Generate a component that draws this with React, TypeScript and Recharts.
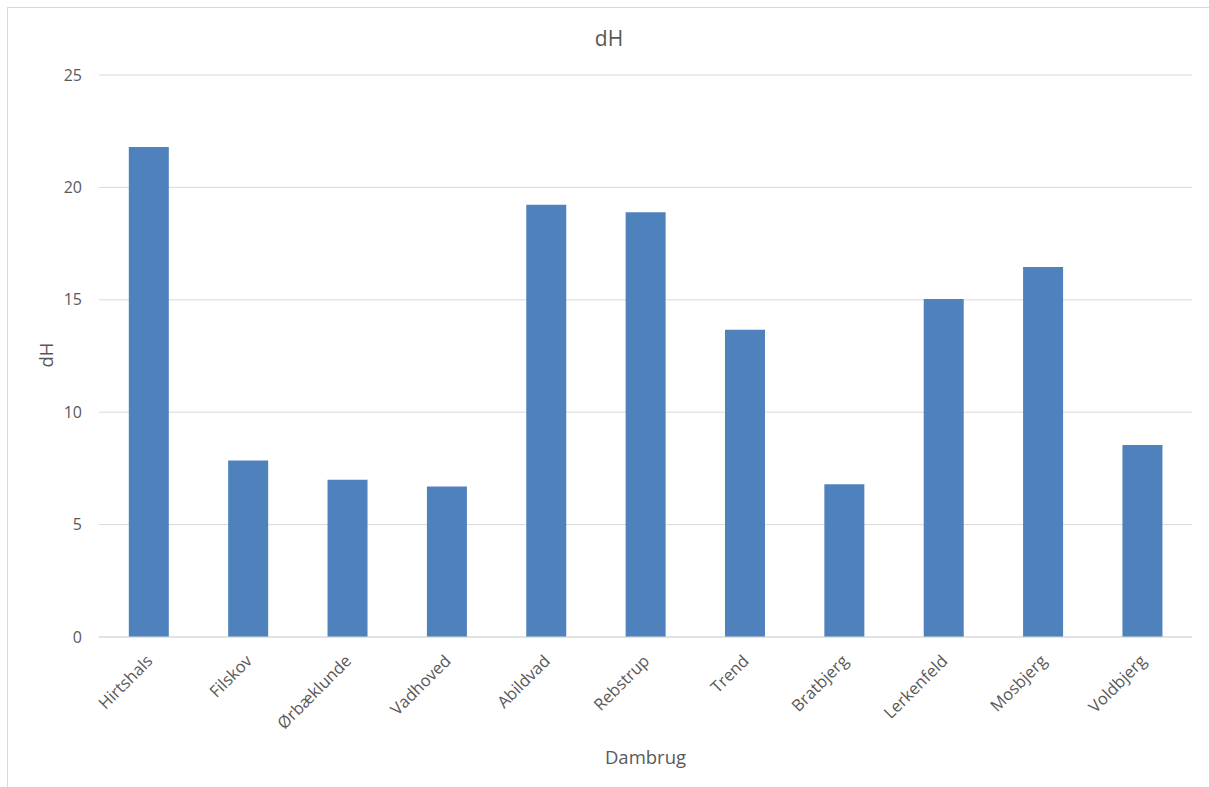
import React from 'react';
import { BarChart, Bar, XAxis, YAxis, CartesianGrid } from 'recharts';

const categories = ['Hirtshals', 'Filskov', 'Ørbæklunde', 'Vadhoved', 'Abildvad', 'Rebstrup', 'Trend', 'Bratbjerg', 'Lerkenfeld', 'Mosbjerg', 'Voldbjerg'];
const dHValues = [21.8, 7.85, 7.0, 6.7, 19.23, 18.9, 13.67, 6.8, 15.04, 16.46, 8.54];
const yTicks = [0, 5, 10, 15, 20, 25];

const data = categories.map((name, i) => ({ name, dH: dHValues[i] }));

const FONT = '"Open Sans", "Noto Sans", sans-serif';
const TEXT = '#595959';

const XTick = (props: any) => {
  const { x, y, payload } = props;
  const ax = x + 5;
  const ay = y + 17;
  return (
    <text x={ax} y={ay} textAnchor="end" fill={TEXT} fontSize={16.5} fontFamily={FONT} transform={`rotate(-45, ${ax}, ${ay})`}>
      {payload.value}
    </text>
  );
};

export default function App() {
  return (
    <div style={{ position: 'absolute', left: 0, top: 0, width: 1209, height: 787, background: '#fff', overflow: 'hidden' }}>
      <div style={{ position: 'absolute', left: 7, top: 7, width: 1220, height: 800, border: '1px solid #d9d9d9', boxSizing: 'border-box' }} />
      <div style={{ position: 'absolute', left: 0, width: 1218, top: 24, textAlign: 'center', fontFamily: FONT, fontSize: 21, color: TEXT }}>dH</div>
      <div style={{ position: 'absolute', left: 0, width: 1291, top: 744, textAlign: 'center', fontFamily: FONT, fontSize: 18.5, color: TEXT }}>Dambrug</div>
      <div style={{ position: 'absolute', left: 45, top: 355, transform: 'translate(-50%, -50%) rotate(-90deg)', fontFamily: FONT, fontSize: 18.5, color: TEXT, whiteSpace: 'nowrap' }}>dH</div>
      <BarChart
        width={1209}
        height={787}
        data={data}
        margin={{ top: 75, right: 17, bottom: 0, left: 0 }}
        barCategoryGap="30%"
        style={{ position: 'absolute', left: 0, top: 0 }}
      >
        <CartesianGrid vertical={false} stroke="#d9d9d9" strokeWidth={1} />
        <XAxis
          dataKey="name"
          interval={0}
          tickLine={false}
          axisLine={{ stroke: '#d9d9d9', strokeWidth: 1 }}
          tick={<XTick />}
          height={150}
        />
        <YAxis
          width={99}
          domain={[0, 25]}
          ticks={yTicks}
          tickLine={false}
          axisLine={false}
          tickSize={0}
          tickMargin={17}
          tick={{ fill: TEXT, fontSize: 16, fontFamily: FONT }}
        />
        <Bar dataKey="dH" fill="#4f81bd" isAnimationActive={false} />
      </BarChart>
    </div>
  );
}
